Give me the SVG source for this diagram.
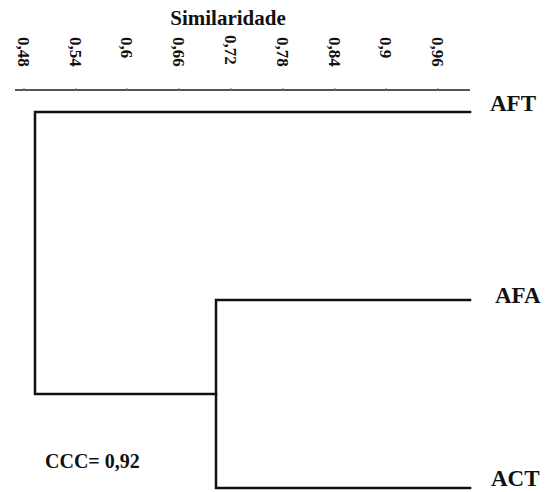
<svg xmlns="http://www.w3.org/2000/svg" width="547" height="492" viewBox="0 0 547 492">
<style>
text{font-family:"Liberation Serif","Times New Roman",serif;font-weight:bold;fill:#111}
.tick{font-size:17px}
.lab{font-size:23px}
.ax{stroke:#555;stroke-width:2;fill:none}
.br{stroke:#111;stroke-width:2.5;fill:none;stroke-linecap:square}
</style>
<rect width="547" height="492" fill="#fff"/>
<g id="axis">
<text x="228" y="25" text-anchor="middle" font-size="21">Similaridade</text>
<line class="ax" x1="15" y1="90" x2="470" y2="90"/>
<g stroke="#777" stroke-width="1">
<line x1="24" y1="88" x2="24" y2="91"/><line x1="76" y1="88" x2="76" y2="91"/><line x1="127" y1="88" x2="127" y2="91"/><line x1="179" y1="88" x2="179" y2="91"/><line x1="231" y1="88" x2="231" y2="91"/><line x1="283" y1="88" x2="283" y2="91"/><line x1="335" y1="88" x2="335" y2="91"/><line x1="386" y1="88" x2="386" y2="91"/><line x1="438" y1="88" x2="438" y2="91"/>
</g>
<text class="tick" transform="translate(18,37) rotate(90)">0,48</text>
<text class="tick" transform="translate(70,37) rotate(90)">0,54</text>
<text class="tick" transform="translate(121,37) rotate(90)">0,6</text>
<text class="tick" transform="translate(173,37) rotate(90)">0,66</text>
<text class="tick" transform="translate(225,35) rotate(90)">0,72</text>
<text class="tick" transform="translate(277,37) rotate(90)">0,78</text>
<text class="tick" transform="translate(329,37) rotate(90)">0,84</text>
<text class="tick" transform="translate(380,37) rotate(90)">0,9</text>
<text class="tick" transform="translate(432,37) rotate(90)">0,96</text>
</g>
<g id="connectors">
<polyline class="br" points="470,112 35,112 35,394 216,394"/>
<polyline class="br" points="470,300 216,300 216,488 470,488"/>
</g>
<g id="AFT"><text class="lab" x="490" y="111">AFT</text></g>
<g id="AFA"><text class="lab" x="495" y="303">AFA</text></g>
<g id="ACT"><text class="lab" x="491" y="486">ACT</text></g>
<g id="ccc"><text x="45" y="468" font-size="20">CCC= 0,92</text></g>
</svg>
